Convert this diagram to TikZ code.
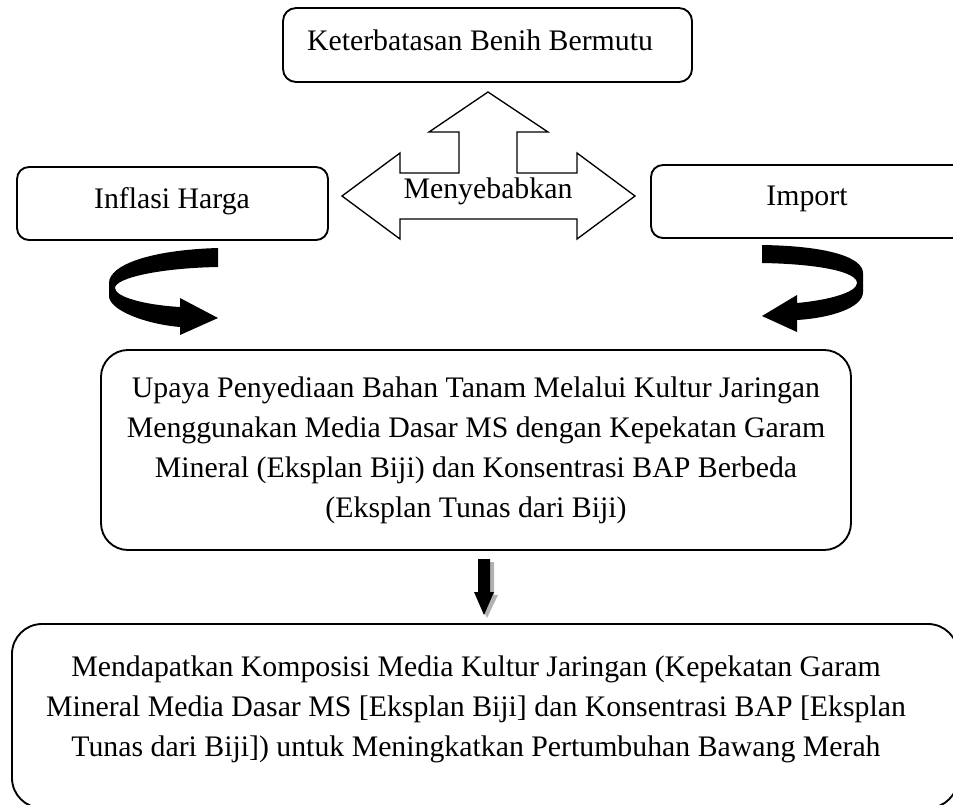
\documentclass[tikz,border=0pt]{standalone}
\usepackage{fontspec}
\setmainfont{Liberation Serif}
\begin{document}
\begin{tikzpicture}[x=0.75pt,y=-0.75pt,
  box/.style={draw=black, line width=1.4pt, inner sep=0pt, outer sep=0pt},
  txt/.style={inner sep=0pt, anchor=base, font=\fontsize{22.35}{30}\selectfont},
  mtxt/.style={inner sep=0pt, anchor=north, align=center, font=\fontsize{22.35}{30}\selectfont},
  blockarrow/.style={draw=black, line width=1pt, fill=white, line join=miter},
  curlarrow/.style={fill=black, draw=none},
  downarrow/.style={fill=black, draw=none},
  shadowarrow/.style={fill=black!30, draw=none}]
\useasboundingbox (0,0) rectangle (953,804);
\clip (0,0) rectangle (953,804);

% boxes
\node[box, rounded corners=9.75pt, minimum width=306.75pt, minimum height=55.5pt] (benih) at (487.5,45) {};
\node[box, rounded corners=9pt, minimum width=233.25pt, minimum height=54.75pt] (inflasi) at (172.5,203.5) {};
\node[box, rounded corners=9pt, minimum width=243pt, minimum height=54.75pt] (import) at (813,201.5) {};
\node[box, rounded corners=20.25pt, minimum width=562.5pt, minimum height=150pt] (upaya) at (476,450) {};
\node[box, rounded corners=22.5pt, minimum width=709.5pt, minimum height=138pt] (hasil) at (485,716) {};

% three-way block arrow
\draw[blockarrow] (342,196) -- (400,153) -- (400,173) -- (459,173) -- (459,132) -- (429,132)
  -- (488,92) -- (548,132) -- (517,132) -- (517,173) -- (577,173) -- (577,153) -- (635,196)
  -- (577,239) -- (577,219) -- (400,219) -- (400,239) -- cycle;

% texts
\node[txt] (benihtxt) at (480,50) {Keterbatasan Benih Bermutu};
\node[txt] (inflasitxt) at (172,208) {Inflasi Harga};
\node[txt] (importtxt) at (807,205) {Import};
\node[txt] (sebab) at (488,198) {Menyebabkan};
\node[mtxt] (upayatxt) at (476,376.6) {Upaya Penyediaan Bahan Tanam Melalui Kultur Jaringan\\
  Menggunakan Media Dasar MS dengan Kepekatan Garam\\
  Mineral (Eksplan Biji) dan Konsentrasi BAP Berbeda\\
  (Eksplan Tunas dari Biji)};
\node[mtxt] (hasiltxt) at (476,655.6) {Mendapatkan Komposisi Media Kultur Jaringan (Kepekatan Garam\\
  Mineral Media Dasar MS [Eksplan Biji] dan Konsentrasi BAP [Eksplan\\
  Tunas dari Biji]) untuk Meningkatkan Pertumbuhan Bawang Merah};

% curved arrows
\fill[curlarrow] (218,248) .. controls (150,250) and (109,265) .. (109,283) -- (109,296)
  .. controls (109,310) and (145,324) .. (180,327) -- (180,335) -- (218,318) -- (180,298)
  -- (180,307) .. controls (145,305) and (115,297) .. (115,288)
  .. controls (115,278) and (160,268) .. (218,267) -- cycle;
\fill[curlarrow] (762,245) .. controls (830,246) and (863,258) .. (863,273) -- (863,292)
  .. controls (863,308) and (830,318) .. (797,320) -- (797,332) -- (762,316) -- (797,295)
  -- (797,303) .. controls (830,300) and (857,292) .. (857,283)
  .. controls (857,272) and (820,264) .. (762,263) -- cycle;

% down arrow with shadow
\fill[shadowarrow] (482,562) -- (494,562) -- (494,595) -- (498,595) -- (487,618) -- (476,595) -- (482,595) -- cycle;
\fill[downarrow] (478,559) -- (490,559) -- (490,592) -- (494,592) -- (484,615) -- (474,592) -- (478,592) -- cycle;
\end{tikzpicture}
\end{document}
